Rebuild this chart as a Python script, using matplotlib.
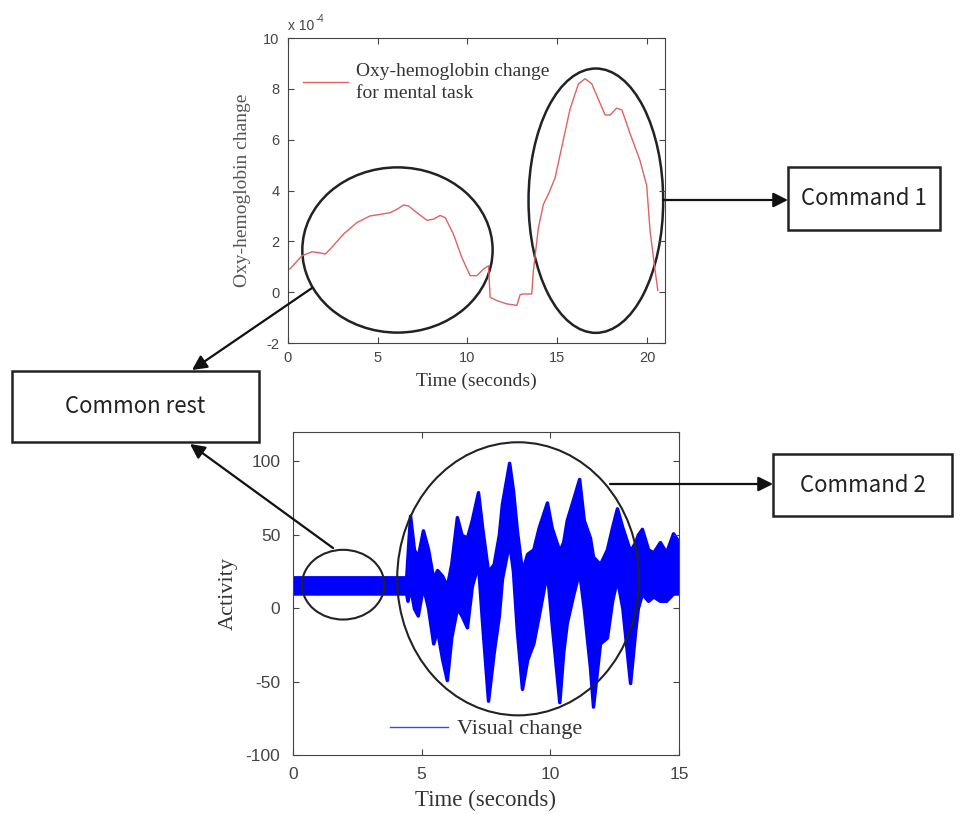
import matplotlib
matplotlib.use('Agg')
import matplotlib.pyplot as plt
from matplotlib.patches import Ellipse, Rectangle

plt.rcParams['axes.unicode_minus'] = False

# oxy-hemoglobin trace (units of 1e-4)
oxy_t = [0.1, 0.78, 1.34, 1.7, 2.08, 2.36, 3.1, 3.84, 4.58, 5.13, 5.7, 6.07, 6.44, 6.72,
         7.18, 7.74, 8.1, 8.48, 8.76, 9.22, 9.68, 10.15, 10.52, 10.89, 11.17, 11.26,
         11.63, 12.19, 12.75, 12.93, 13.1, 13.58, 13.67, 13.95, 14.23, 14.5, 14.88,
         15.34, 15.71, 16.18, 16.55, 16.92, 17.3, 17.67, 17.95, 18.3, 18.6, 19.05,
         19.6, 19.98, 20.17, 20.45, 20.6]
oxy_v = [0.91, 1.43, 1.59, 1.56, 1.5, 1.7, 2.29, 2.74, 3.0, 3.06, 3.13, 3.26, 3.43, 3.39,
         3.13, 2.83, 2.87, 3.02, 2.93, 2.28, 1.37, 0.65, 0.65, 0.91, 1.04, -0.2,
         -0.33, -0.46, -0.52, -0.1, -0.07, -0.07, 0.85, 2.54, 3.46, 3.85, 4.5,
         6.0, 7.2, 8.2, 8.4, 8.2, 7.57, 6.97, 6.97, 7.24, 7.17, 6.25,
         5.2, 4.2, 2.41, 0.85, 0.07]

# visual activity trace: upper / lower envelope
act_t = [0.0, 4.4, 4.45, 4.55, 4.7, 4.85, 5.05, 5.25, 5.45, 5.6, 5.8, 5.98, 6.15, 6.37,
         6.55, 6.76, 6.95, 7.19, 7.35, 7.58, 7.8, 8.0, 8.12, 8.4, 8.55, 8.7, 8.9, 9.1,
         9.34, 9.55, 9.87, 10.05, 10.35, 10.5, 10.64, 10.9, 11.12, 11.3, 11.54, 11.66,
         11.93, 12.2, 12.4, 12.59, 12.8, 13.1, 13.3, 13.4, 13.56, 13.8, 14.0, 14.26,
         14.5, 14.77, 15.0]
act_hi = [21, 21, 35, 63, 40, 35, 53, 40, 20, 26, 22, 15, 30, 62,
          50, 48, 60, 79, 55, 25, 30, 50, 71, 99, 80, 53, 25, 37,
          40, 55, 72, 55, 39, 45, 60, 75, 88, 60, 48, 35,
          30, 40, 55, 68, 55, 39, 45, 50, 54, 40, 38, 45,
          38, 51, 45]
act_lo = [10, 10, 5, 15, 0, -5, 15, 0, -24, -15, -35, -49, -20, 0,
          -5, -13, 15, 30, -10, -63, -30, -5, 20, 45, 25, -15, -55, -35,
          -24, -5, 25, -10, -64, -30, -10, 10, 25, 0, -40, -67,
          -24, -20, 5, 20, 0, -51, -15, 0, 10, 5, 8, 5,
          5, 10, 10]

serif = ['Liberation Serif', 'DejaVu Serif']
sans = ['Liberation Sans', 'DejaVu Sans']
box_font = ['Noto Sans CJK KR', 'DejaVu Sans']

fig = plt.figure(figsize=(9.65, 8.14), dpi=100)


def style_axes(ax, size, pad):
    ax.tick_params(direction='in', top=True, right=True, length=4, pad=pad,
                   labelsize=size, colors='#444', labelcolor='#444')
    for lab in ax.get_xticklabels() + ax.get_yticklabels():
        lab.set_family(sans)
    for s in ax.spines.values():
        s.set_color('#444')


# top panel
ax1 = fig.add_axes([0.2984, 0.5786, 0.3907, 0.3747])
ax1.plot(oxy_t, oxy_v, color='#e06262', lw=1.0, label='Oxy-hemoglobin change\nfor mental task')
ax1.set_xlim(0, 21)
ax1.set_ylim(-2, 10)
ax1.set_xticks([0, 5, 10, 15, 20])
ax1.set_yticks([-2, 0, 2, 4, 6, 8, 10])
style_axes(ax1, 10.5, 6)
ax1.set_xlabel('Time (seconds)', family=serif, fontsize=14, color='#333', labelpad=5)
ax1.set_ylabel('Oxy-hemoglobin change', family=serif, fontsize=14, color='#555', labelpad=9)
ax1.text(0.0, 1.015, 'x 10', transform=ax1.transAxes, fontsize=10, color='#444',
         family=sans, ha='left', va='bottom')
ax1.text(0.072, 1.045, '-4', transform=ax1.transAxes, fontsize=7, color='#444',
         family=sans, ha='left', va='bottom')
leg1 = ax1.legend(loc='upper left', frameon=False, prop={'family': serif, 'size': 14},
                  handlelength=2.3, handletextpad=0.4, borderaxespad=0.0,
                  bbox_to_anchor=(0.02, 0.943))
for t in leg1.get_texts():
    t.set_color('#333')
    t.set_linespacing(1.35)
ax1.add_patch(Ellipse((6.1, 1.66), 10.6, 6.5, fill=False, ec='#222', lw=1.8, clip_on=False))
ax1.add_patch(Ellipse((17.15, 3.6), 7.5, 10.4, fill=False, ec='#222', lw=1.8, clip_on=False))

# bottom panel
ax2 = fig.add_axes([0.3036, 0.0725, 0.4, 0.3968])
ax2.fill_between(act_t, act_lo, act_hi, color='#0000ff', lw=2.5, ec='#0000ff')
ax2.plot([], [], color='#4040ff', lw=1.0, label='Visual change')
ax2.set_xlim(0, 15)
ax2.set_ylim(-100, 120)
ax2.set_xticks([0, 5, 10, 15])
ax2.set_yticks([-100, -50, 0, 50, 100])
style_axes(ax2, 12.5, 9)
ax2.set_xlabel('Time (seconds)', family=serif, fontsize=16.5, color='#333', labelpad=5)
ax2.set_ylabel('Activity', family=serif, fontsize=16, color='#333', labelpad=6)
leg2 = ax2.legend(loc='lower center', frameon=False, prop={'family': serif, 'size': 16},
                  handlelength=2.6, handletextpad=0.4, borderaxespad=0.3,
                  bbox_to_anchor=(0.5, 0.0))
for t in leg2.get_texts():
    t.set_color('#333')
ax2.add_patch(Ellipse((1.95, 16), 3.2, 47.5, fill=False, ec='#222', lw=1.5, clip_on=False))
ax2.add_patch(Ellipse((8.75, 20), 9.4, 186, fill=False, ec='#222', lw=1.5, clip_on=False))

# overlay in pixel coordinates for the boxes and arrows
ov = fig.add_axes([0, 0, 1, 1], zorder=10)
ov.set_xlim(0, 965)
ov.set_ylim(814, 0)
ov.axis('off')
ov.patch.set_alpha(0)

boxes = [((12, 371, 247, 71), 'Common rest'),
         ((788, 167, 152, 63), 'Command 1'),
         ((773, 454, 179, 62), 'Command 2')]
for (x, y, w, h), label in boxes:
    ov.add_patch(Rectangle((x, y), w, h, fill=False, ec='#222', lw=1.8))
    ov.text(x + w / 2, y + h / 2, label, ha='center', va='center', fontsize=16,
            family=box_font, color='#222')

arrows = [((663, 200), (788, 200)),
          ((312, 288), (192, 370)),
          ((333, 548), (190, 444)),
          ((610, 484), (773, 484))]
for start, tip in arrows:
    ov.annotate('', xy=tip, xytext=start,
                arrowprops=dict(arrowstyle='-|>', color='#111', lw=1.6,
                                mutation_scale=22, shrinkA=0, shrinkB=0))

fig.savefig('out.png', dpi=100)
